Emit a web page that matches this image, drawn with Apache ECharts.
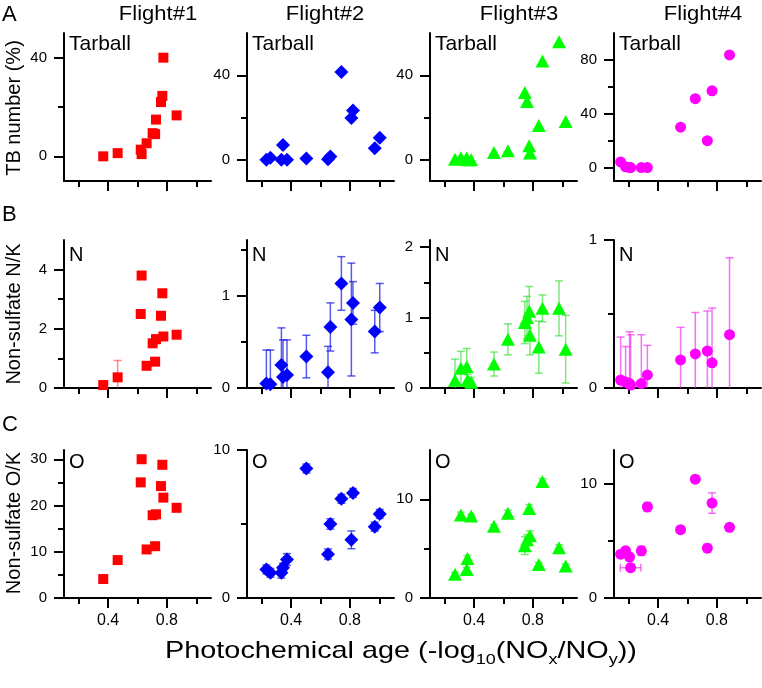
<!DOCTYPE html>
<html><head><meta charset="utf-8">
<script src="https://cdn.jsdelivr.net/npm/echarts@6/dist/echarts.min.js"></script>
<style>html,body{margin:0;padding:0;background:#fff}#c{width:762px;height:688px}</style>
</head><body><div id="c"></div>
<script>
const FONT = '"Liberation Sans", Arial, Helvetica, sans-serif';

// ---- text ----
const flightNames = ['Flight#1', 'Flight#2', 'Flight#3', 'Flight#4'];
const rowLetters = ['A', 'B', 'C'];
const rowTitles = ['TB number (%)', 'Non-sulfate N/K', 'Non-sulfate O/K'];
const panelTags = ['Tarball', 'N', 'O'];

// ---- x ticks (shared by all panels) ----
const xMajorTicks = [0.4, 0.8];
const xMinorTicks = [0.2, 0.6, 1.0];
const xRange = [0.1, 1.1];

// ---- y axes per row (one entry per flight) ----
const rowA_range = [[-10, 50], [-10, 60], [-10, 60], [-10, 100]];
const rowA_major = [[0, 40], [0, 40], [0, 40], [0, 40, 80]];
const rowA_minor = [[20], [20], [20], [20, 60]];
const rowB_range = [[0, 5], [0, 1.6], [0, 2.1], [0, 1]];
const rowB_major = [[0, 2, 4], [0, 1], [0, 1, 2], [0, 1]];
const rowB_minor = [[1, 3], [0.5, 1.5], [0.5, 1.5], [0.5]];
const rowC_range = [[0, 32], [0, 10], [0, 15], [0, 13]];
const rowC_major = [[0, 10, 20, 30], [0, 10], [0, 10], [0, 10]];
const rowC_minor = [[5, 15, 25], [5], [5], [5]];

// ---- Flight 1 ----
const f1_x    = [0.367, 0.465, 0.628, 0.622, 0.769, 0.760, 0.776, 0.866, 0.703, 0.726, 0.662, 0.720];
const f1_tb   = [0, 1.3, 0.9, 2.7, 24.5, 22, 40, 16.6, 9.4, 14.9, 5.3, 9.0];
const f1_n    = [0.1, 0.36, 3.8, 2.5, 3.2, 2.44, 1.74, 1.8, 1.51, 1.65, 0.75, 0.89];
const f1_nErr = [0.05, 0.57, 0.05, 0.05, 0.05, 0.05, 0.08, 0.08, 0.1, 0.15, 0.1, 0.12];
const f1_o    = [4.1, 8.2, 30.0, 25.0, 28.8, 24.2, 21.7, 19.5, 17.9, 18.1, 10.5, 11.2];
const f1_oErr = [0.3, 0.3, 0.3, 0.3, 0.3, 0.3, 0.4, 0.3, 0.4, 0.4, 0.4, 0.4];

// ---- Flight 2 ----
const f2_x    = [0.232, 0.259, 0.334, 0.345, 0.372, 0.504, 0.651, 0.667, 0.742, 0.821, 0.810, 0.969, 1.003];
const f2_tb   = [0, 1, 0, 7, 0, 0.6, 0.3, 1.6, 41.6, 23.3, 19.8, 5.5, 10.5];
const f2_n    = [0.05, 0.04, 0.25, 0.12, 0.14, 0.34, 0.17, 0.66, 1.13, 0.92, 0.74, 0.61, 0.87];
const f2_nErr = [0.36, 0.37, 0.40, 0.40, 0.38, 0.23, 0.28, 0.26, 0.29, 0.23, 0.61, 0.23, 0.26];
const f2_o    = [1.93, 1.7, 1.7, 2.05, 2.6, 8.75, 2.96, 5.0, 6.7, 7.1, 3.93, 4.82, 5.68];
const f2_oErr = [0.3, 0.3, 0.35, 0.3, 0.4, 0.3, 0.35, 0.35, 0.3, 0.3, 0.6, 0.3, 0.3];

// ---- Flight 3 ----
const f3_x    = [0.27, 0.31, 0.35, 0.355, 0.38, 0.535, 0.63, 0.745, 0.76, 0.775, 0.78, 0.84, 0.865, 0.978, 1.023];
const f3_tb   = [0.3, 1, 1, 0, 0, 3.5, 4.3, 31.8, 27.6, 6.7, 3.2, 16.2, 46.7, 55.9, 18.1];
const f3_n    = [0.11, 0.28, 0.3, 0.11, 0.08, 0.34, 0.69, 0.93, 1.0, 1.09, 0.75, 0.58, 1.13, 1.13, 0.55];
const f3_nErr = [0.3, 0.24, 0.26, 0.08, 0.07, 0.17, 0.22, 0.3, 0.3, 0.35, 0.28, 0.37, 0.19, 0.39, 0.48];
const f3_o    = [2.4, 8.4, 2.9, 4.0, 8.3, 7.26, 8.6, 5.3, 5.9, 9.07, 6.3, 3.4, 11.8, 5.1, 3.25];
const f3_oErr = [0.2, 0.3, 0.2, 0.3, 0.2, 0.2, 0.3, 0.9, 0.5, 0.4, 0.5, 0.2, 0.3, 0.3, 0.2];

// ---- Flight 4 ----
const f4_x     = [0.145, 0.179, 0.206, 0.213, 0.286, 0.327, 0.553, 0.653, 0.735, 0.767, 0.886];
const f4_tb    = [4.2, 0.5, 0, 0, 0, 0, 30, 51.2, 20, 57, 83.7];
const f4_n     = [0.054, 0.04, 0.03, 0.02, 0.03, 0.088, 0.19, 0.23, 0.25, 0.17, 0.36];
const f4_nErr  = [0.29, 0.24, 0.35, 0.34, 0.33, 0.2, 0.22, 0.28, 0.27, 0.37, 0.52];
const f4_o     = [3.85, 4.14, 3.6, 2.66, 4.14, 8.0, 6.0, 10.44, 4.38, 8.34, 6.21];
const f4_oErr  = [0.3, 0.3, 0.3, 0.3, 0.4, 0.4, 0.3, 0.3, 0.35, 0.9, 0.3];
const f4_oXErr = [0, 0, 0, 0.07, 0, 0, 0, 0, 0, 0, 0];

// ---------------- build ----------------
const flights = [
  {x: f1_x, rows: [[f1_tb, null], [f1_n, f1_nErr], [f1_o, f1_oErr]]},
  {x: f2_x, rows: [[f2_tb, null], [f2_n, f2_nErr], [f2_o, f2_oErr]]},
  {x: f3_x, rows: [[f3_tb, null], [f3_n, f3_nErr], [f3_o, f3_oErr]]},
  {x: f4_x, rows: [[f4_tb, null], [f4_n, f4_nErr], [f4_o, f4_oErr, f4_oXErr]]}
];
const ranges = [rowA_range, rowB_range, rowC_range];
const majors = [rowA_major, rowB_major, rowC_major];
const minors = [rowA_minor, rowB_minor, rowC_minor];

const gridLeft = [64, 247, 430, 614];
const gridTop = [33, 240, 450];
const GW = 147, GH = 148;

const colors = ['#ff0000', '#0000ff', '#00ff00', '#ff00ff'];
const errColors = ['rgba(255,40,40,0.55)', 'rgba(20,20,230,0.7)', 'rgba(40,220,40,0.6)', 'rgba(240,40,240,0.65)'];
const symbols = ['rect', 'diamond', 'triangle', 'circle'];
const symbolSizes = [10, 14, [14, 13], 11];

const grids = [], xAxes = [], yAxes = [], series = [];
const black = '#000';

function errRenderer(ymin, ymax, xmin, xmax, color) {
  return function (params, api) {
    const x = api.value(0), y = api.value(1), e = api.value(2), xe = api.value(3);
    const style = {stroke: color, lineWidth: 1.5};
    const children = [];
    const cap = 4;
    if (e > 0) {
      const lo = Math.max(y - e, ymin), hi = Math.min(y + e, ymax);
      const p1 = api.coord([x, lo]), p2 = api.coord([x, hi]);
      children.push({type: 'line', shape: {x1: p1[0], y1: p1[1], x2: p2[0], y2: p2[1]}, style});
      if (y - e >= ymin) children.push({type: 'line', shape: {x1: p1[0] - cap, y1: p1[1], x2: p1[0] + cap, y2: p1[1]}, style});
      if (y + e <= ymax) children.push({type: 'line', shape: {x1: p2[0] - cap, y1: p2[1], x2: p2[0] + cap, y2: p2[1]}, style});
    }
    if (xe > 0) {
      const lo = Math.max(x - xe, xmin), hi = Math.min(x + xe, xmax);
      const p1 = api.coord([lo, y]), p2 = api.coord([hi, y]);
      children.push({type: 'line', shape: {x1: p1[0], y1: p1[1], x2: p2[0], y2: p2[1]}, style});
      children.push({type: 'line', shape: {x1: p1[0], y1: p1[1] - cap, x2: p1[0], y2: p1[1] + cap}, style});
      children.push({type: 'line', shape: {x1: p2[0], y1: p2[1] - cap, x2: p2[0], y2: p2[1] + cap}, style});
    }
    return {type: 'group', children};
  };
}

for (let r = 0; r < 3; r++) {
  for (let c = 0; c < 4; c++) {
    const g = r * 4 + c;
    grids.push({left: gridLeft[c], top: gridTop[r], width: GW, height: GH,
      containLabel: false, outerBoundsMode: 'none', show: false});
    const [ymin, ymax] = ranges[r][c];
    // main x axis (major ticks + labels on bottom row)
    xAxes.push({type: 'value', gridIndex: g, position: 'bottom', offset: 0, min: xRange[0], max: xRange[1],
      axisLine: {show: true, onZero: false, lineStyle: {color: black, width: 2}},
      axisTick: {show: true, customValues: xMajorTicks, length: 10, lineStyle: {color: black, width: 2}},
      axisLabel: {show: r === 2, customValues: xMajorTicks, fontSize: 16, color: black, margin: 15, fontFamily: FONT},
      splitLine: {show: false}});
    // minor x ticks
    xAxes.push({type: 'value', gridIndex: g, position: 'bottom', offset: 0, min: xRange[0], max: xRange[1],
      axisLine: {show: false, onZero: false},
      axisTick: {show: true, customValues: xMinorTicks, length: 6, lineStyle: {color: black, width: 2}},
      axisLabel: {show: false}, splitLine: {show: false}});
    yAxes.push({type: 'value', gridIndex: g, position: 'left', offset: 0, min: ymin, max: ymax,
      axisLine: {show: true, onZero: false, lineStyle: {color: black, width: 2}},
      axisTick: {show: true, customValues: majors[r][c], length: 10, lineStyle: {color: black, width: 2}},
      axisLabel: {show: true, customValues: majors[r][c], fontSize: 15, color: black, margin: 17, fontFamily: FONT},
      splitLine: {show: false}});
    yAxes.push({type: 'value', gridIndex: g, position: 'left', offset: 0, min: ymin, max: ymax,
      axisLine: {show: false, onZero: false},
      axisTick: {show: true, customValues: minors[r][c], length: 6, lineStyle: {color: black, width: 2}},
      axisLabel: {show: false}, splitLine: {show: false}});

    const fl = flights[c];
    const [yv, ye, xe] = fl.rows[r];
    if (ye) {
      series.push({type: 'custom', coordinateSystem: 'cartesian2d',
        xAxisIndex: 2 * g, yAxisIndex: 2 * g, z: 1, silent: true,
        encode: {x: 0, y: 1},
        renderItem: errRenderer(ymin, ymax, xRange[0], xRange[1], errColors[c]),
        data: fl.x.map((v, i) => [v, yv[i], ye[i], xe ? xe[i] : 0])});
    }
    series.push({type: 'scatter', xAxisIndex: 2 * g, yAxisIndex: 2 * g, z: 3,
      symbol: symbols[c], symbolSize: symbolSizes[c],
      itemStyle: {color: colors[c], opacity: 1},
      data: fl.x.map((v, i) => [v, yv[i]])});
  }
}

// ---- text graphics ----
const graphic = [];
const flightCenters = [158, 325, 519, 703];
flightNames.forEach((t, c) => graphic.push({type: 'text', x: flightCenters[c], y: 14, scaleX: 1.1,
  style: {text: t, fontSize: 20, fontFamily: FONT, fill: black, align: 'center', verticalAlign: 'middle'}}));
const letterY = [15, 215, 425];
rowLetters.forEach((t, r) => graphic.push({type: 'text', x: 2, y: letterY[r],
  style: {text: t, fontSize: 22, fontFamily: FONT, fill: black, align: 'left', verticalAlign: 'middle'}}));
const titleY = [108, 314, 523];
rowTitles.forEach((t, r) => graphic.push({type: 'text', x: 14, y: titleY[r], rotation: Math.PI / 2,
  style: {text: t, fontSize: 20, fontFamily: FONT, fill: black, align: 'center', verticalAlign: 'middle'}}));
const tagY = [44, 255, 462];
for (let r = 0; r < 3; r++) for (let c = 0; c < 4; c++) {
  graphic.push({type: 'text', x: gridLeft[c] + 5, y: tagY[r], z: 10,
    style: {text: panelTags[r], fontSize: r === 0 ? 21 : 20, fontFamily: FONT, fill: black, align: 'left', verticalAlign: 'middle'}});
}

// x-axis title with subscripts
const titlePieces = [['Photochemical age (-log', 0], ['10', 1], ['(NO', 0], ['x', 1], ['/NO', 0], ['y', 1], ['))', 0]];
const MAIN = 24, SUB = 15;
const cv = document.createElement('canvas').getContext('2d');
function tw(t, s) { cv.font = s + 'px ' + FONT; return cv.measureText(t).width; }
let total = 0;
titlePieces.forEach(p => total += tw(p[0], p[1] ? SUB : MAIN));
let cx = -total / 2;
const kids = [];
titlePieces.forEach(p => {
  const s = p[1] ? SUB : MAIN;
  kids.push({type: 'text', x: cx, y: p[1] ? 9 : 0,
    style: {text: p[0], fontSize: s, fontFamily: FONT, fill: black, align: 'left', verticalAlign: 'middle'}});
  cx += tw(p[0], s);
});
graphic.push({type: 'group', x: 401, y: 651, scaleX: 1.2, children: kids});

const chart = echarts.init(document.getElementById('c'), null, {renderer: 'canvas'});
chart.setOption({animation: false, backgroundColor: '#fff', grid: grids, xAxis: xAxes, yAxis: yAxes, series, graphic});
</script></body></html>
